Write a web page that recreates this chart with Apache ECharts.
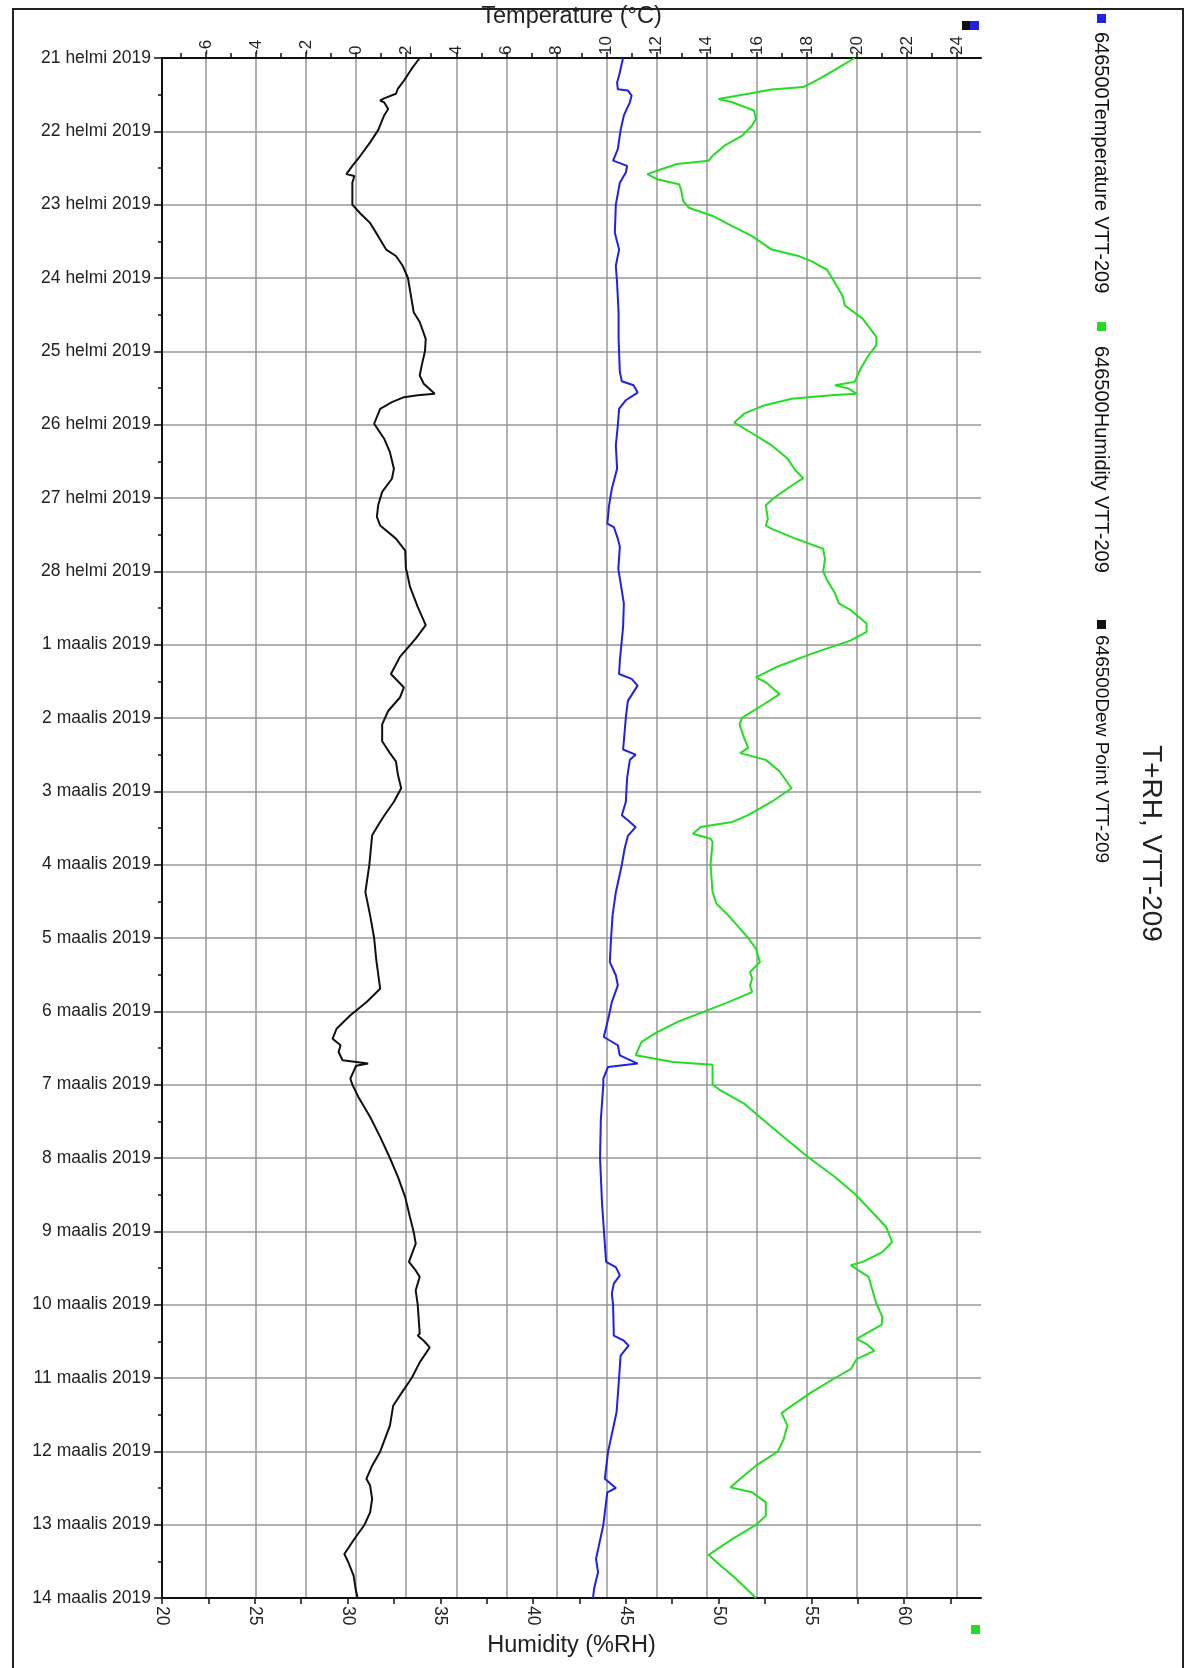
<!DOCTYPE html>
<html>
<head>
<meta charset="utf-8">
<title>T+RH, VTT-209</title>
<script src="https://cdn.jsdelivr.net/npm/echarts@6/dist/echarts.min.js"></script>
<style>
  html, body { margin: 0; padding: 0; background: #ffffff; }
  #chart { width: 1185px; height: 1668px; }
</style>
</head>
<body>
<div id="chart"></div>
<script>
// Logger VTT-209, 21.2.2019 – 14.3.2019. Each row: [hours since 21.2.2019 00:00, value]
const START_DATE = [2019, 1, 21];
const MONTHS_FI = ['tammi', 'helmi', 'maalis', 'huhti', 'touko', 'kesä', 'heinä', 'elo', 'syys', 'loka', 'marras', 'joulu'];

const TEMP_MAJOR = [-6, -4, -2, 0, 2, 4, 6, 8, 10, 12, 14, 16, 18, 20, 22, 24];
const TEMP_MINOR = [-7, -5, -3, -1, 1, 3, 5, 7, 9, 11, 13, 15, 17, 19, 21, 23];
const RH_LABELS = [20, 25, 30, 35, 40, 45, 50, 55, 60];
const RH_TICKS = [20, 22.5, 25, 27.5, 30, 32.5, 35, 37.5, 40, 42.5, 45, 47.5, 50, 52.5, 55, 57.5, 60, 62.5];

// Dew point (°C)
const dewPoint = [
  [0, 2.54], [3.5, 2.22], [8, 1.86], [10, 1.67], [11.7, 1.59], [13.2, 1.12], [13.9, 0.96], [14.5, 1.12],
  [16.7, 1.28], [18.8, 1.12], [23.6, 0.88], [27.6, 0.56], [32, 0.17], [35.3, -0.15], [38, -0.39], [38.6, -0.07],
  [40.8, -0.15], [44, -0.15], [48, -0.15], [50.9, 0.17], [54, 0.56], [58.3, 0.88], [62.7, 1.2], [64.8, 1.59],
  [68, 1.86], [72, 2.07], [83.2, 2.3], [86.4, 2.54], [91.9, 2.78], [96, 2.75], [100.6, 2.62], [103.9, 2.54],
  [106.6, 2.7], [109.9, 3.14], [110.4, 2.46], [111, 1.91], [112.6, 1.43], [114.8, 0.96], [119.7, 0.72],
  [124.6, 1.12], [129, 1.35], [134.4, 1.51], [137.7, 1.43], [142, 1.04], [146.4, 0.88], [150.2, 0.83],
  [153, 0.96], [157.3, 1.59], [161.2, 1.96], [167.2, 1.99], [168, 2.02], [173, 2.15], [179.6, 2.46],
  [185.6, 2.78], [190, 2.38], [196, 1.75], [201.6, 1.39], [206, 1.91], [209.3, 1.75], [213.7, 1.28],
  [218.1, 1.04], [223.6, 1.04], [227.5, 1.35], [230.2, 1.59], [234.6, 1.67], [239, 1.8], [243.4, 1.51],
  [248, 1.12], [251.1, 0.88], [254.4, 0.64], [264, 0.53], [273, 0.37], [280.6, 0.56], [288, 0.72],
  [294.8, 0.8], [304.6, 0.96], [309, 0.41], [313.3, -0.23], [317.7, -0.78], [321, -0.94], [323.1, -0.62],
  [325.3, -0.7], [328, -0.54], [329.1, 0.48], [329.8, 0.0], [334, -0.23], [336, -0.15], [340, 0.09],
  [346.6, 0.56], [353.1, 0.96], [360, 1.35], [366.2, 1.67], [372.8, 1.96], [379.3, 2.15], [384.2, 2.3],
  [388, 2.38], [394, 2.11], [396.8, 2.38], [398.9, 2.54], [403.3, 2.38], [408, 2.46], [417.5, 2.54],
  [418.1, 2.46], [419.8, 2.7], [422, 2.94], [426.9, 2.54], [432, 2.22], [436.7, 1.83], [441.1, 1.48],
  [447.6, 1.35], [456.1, 0.96], [460.7, 0.64], [465, 0.41], [467.2, 0.56], [471.6, 0.64], [476, 0.56],
  [480.1, 0.33], [484.7, -0.07], [489.6, -0.47], [492.3, -0.31], [496.7, -0.1], [501, -0.02], [504, 0.06]
];

// Air temperature (°C)
const temperature = [
  [0, 10.66], [5.7, 10.5], [8, 10.42], [10.2, 10.45], [10.6, 10.85], [12.3, 11.0], [14.5, 10.93],
  [18.8, 10.69], [23.6, 10.56], [29.8, 10.45], [33.6, 10.26], [35.3, 10.82], [37.5, 10.77], [40.8, 10.53],
  [48, 10.37], [57.2, 10.33], [62.7, 10.5], [68, 10.37], [73.6, 10.42], [83.5, 10.48], [91.9, 10.48],
  [102.8, 10.53], [105.8, 10.61], [107.1, 11.08], [109.5, 11.24], [112, 10.77], [114.8, 10.5], [120.2, 10.45],
  [126.8, 10.37], [134.4, 10.42], [141, 10.21], [146.4, 10.1], [152.4, 10.03], [153.5, 10.29], [157.3, 10.45],
  [160, 10.53], [167.2, 10.47], [178.5, 10.69], [186.2, 10.66], [197.2, 10.53], [201.6, 10.5], [203.2, 11.0],
  [205.4, 11.24], [210.4, 10.85], [215.9, 10.77], [223.6, 10.69], [226.3, 10.66], [228, 11.16], [229.7, 10.93],
  [235.7, 10.82], [243.4, 10.77], [247.8, 10.61], [249.5, 10.85], [251.7, 11.16], [254.6, 10.85], [258.8, 10.72],
  [264, 10.61], [273, 10.37], [280.6, 10.24], [288, 10.18], [295.9, 10.13], [300.2, 10.37], [303.5, 10.45],
  [309, 10.21], [313.3, 10.1], [320.4, 9.89], [323.1, 10.45], [326.4, 10.53], [329.1, 11.24], [330.2, 10.06],
  [334, 9.87], [336, 9.87], [347.7, 9.77], [360, 9.74], [375, 9.82], [388, 9.93], [394, 9.98], [395.7, 10.37],
  [398.4, 10.53], [401.1, 10.29], [404.4, 10.21], [408, 10.26], [418.1, 10.29], [419.8, 10.69], [421.4, 10.88],
  [424.7, 10.56], [432, 10.5], [443.2, 10.4], [456.1, 10.06], [465, 9.93], [468, 10.37], [469.4, 10.03],
  [480.1, 9.87], [491.2, 9.58], [495.6, 9.66], [501, 9.5], [504, 9.46]
];

// Relative humidity (%RH)
const humidity = [
  [0, 57.34], [3.5, 56.38], [6.8, 55.43], [9.5, 54.57], [10.3, 52.87], [11.7, 51.6], [13.4, 50.0], [14.5, 50.74],
  [17.2, 51.91], [19.9, 52.02], [22.1, 51.81], [25.4, 51.28], [28.7, 50.32], [32, 49.68], [33.6, 49.47],
  [34.7, 47.77], [36.4, 46.91], [38, 46.17], [39.7, 46.7], [41.3, 47.87], [43, 47.98], [46.8, 48.09], [49, 48.4],
  [51.7, 49.68], [55, 50.74], [58.3, 51.81], [62.7, 52.87], [64.9, 54.36], [66.5, 55.0], [69.3, 55.85],
  [72.5, 56.17], [74.7, 56.38], [78, 56.7], [81, 56.81], [85.3, 57.77], [91.3, 58.51], [94, 58.51],
  [97.3, 58.09], [101.7, 57.66], [106, 57.34], [107.1, 56.28], [108.2, 57.02], [109.9, 57.45], [110.4, 56.06],
  [111.5, 53.94], [113.7, 52.45], [116.4, 51.38], [119.3, 50.85], [122.4, 51.7], [126.8, 52.87], [131.1, 53.72],
  [135, 54.15], [137.5, 54.57], [140.4, 53.83], [144, 52.98], [146.4, 52.55], [150.8, 52.66], [153, 52.55],
  [154.1, 52.87], [157.3, 54.15], [160.6, 55.64], [164, 55.74], [168, 55.64], [170.8, 55.85], [175.2, 56.28],
  [178.5, 56.49], [180.7, 57.13], [185.1, 57.98], [187.8, 57.98], [190.6, 57.13], [195, 55.0], [199.4, 53.09],
  [202.7, 52.02], [204.3, 52.55], [208.2, 53.3], [211.5, 52.45], [215.9, 51.28], [218.1, 51.13], [222.5, 51.38],
  [225.8, 51.6], [227.5, 51.17], [229.7, 52.55], [233.5, 53.3], [239, 53.94], [243.4, 52.87], [247.8, 51.6],
  [250, 50.74], [251.7, 49.04], [253.9, 48.62], [255.5, 49.57], [256.6, 49.68], [264, 49.57], [273, 49.68],
  [276.8, 49.89], [280.6, 50.53], [285, 51.17], [288, 51.6], [291.5, 52.02], [295.9, 52.23], [299.1, 51.7],
  [301.3, 51.81], [303.5, 51.7], [305.7, 51.81], [309, 50.53], [312, 49.26], [315.5, 47.77], [318.8, 46.7],
  [322, 45.85], [326.4, 45.53], [328.6, 47.55], [329.5, 49.68], [334, 49.68], [336, 49.68], [337.9, 50.11],
  [342.2, 51.38], [346.6, 52.23], [353.1, 53.51], [360, 54.89], [366.2, 56.28], [371.7, 57.34], [377.1, 58.19],
  [382.6, 59.04], [387.5, 59.36], [390.8, 58.83], [394, 57.77], [395.1, 57.13], [396.8, 57.55], [398.9, 58.09],
  [403.3, 58.3], [407.7, 58.51], [412, 58.83], [414.5, 58.8], [419.2, 57.45], [420.9, 57.98], [423.1, 58.4],
  [425.8, 57.45], [429.1, 57.13], [432, 56.28], [436.7, 55.0], [441.1, 53.94], [443.5, 53.4], [447.6, 53.72],
  [452, 53.51], [456.1, 53.19], [460.7, 52.02], [465, 51.17], [467.8, 50.64], [469.4, 51.81], [472.7, 52.55],
  [477.1, 52.55], [480.1, 52.02], [484.7, 50.74], [489.9, 49.47], [493.4, 50.11], [497.8, 50.96], [504, 52.02]
];

const SERIES_NAMES = ['646500Temperature VTT-209', '646500Humidity VTT-209', '646500Dew Point VTT-209'];
const COLORS = { temperature: '#2020e6', humidity: '#22dd22', dewPoint: '#111111' };

const FONT = '"Liberation Sans", Arial, sans-serif';
const GRID_COLOR = '#979797';
const TOTAL_HOURS = 21 * 24;

// "21 helmi 2019" style date labels from hour offsets
function dateLabel(hours) {
  const d = new Date(START_DATE[0], START_DATE[1], START_DATE[2] + Math.round(hours / 24));
  return d.getDate() + ' ' + MONTHS_FI[d.getMonth()] + ' ' + d.getFullYear();
}
// x = measured value, y = time
function toPoints(rows) { return rows.map(r => [r[1], r[0]]); }

const chart = echarts.init(document.getElementById('chart'), null, { renderer: 'canvas' });

const option = {
  animation: false,
  backgroundColor: '#ffffff',
  grid: { left: 162, top: 58, width: 819, height: 1540, outerBoundsMode: 'none', containLabel: false },
  xAxis: [
    {
      // temperature scale, top
      type: 'value', position: 'top', min: -7.75, max: 24.95,
      name: 'Temperature (°C)', nameLocation: 'middle', nameGap: 23,
      nameTextStyle: { fontFamily: FONT, fontSize: 23.5, color: '#222' },
      axisLine: { show: true, onZero: false, lineStyle: { color: '#111', width: 2 } },
      axisTick: { show: true, customValues: TEMP_MAJOR, length: 6, lineStyle: { color: '#111', width: 1.5 } },
      axisLabel: { show: true, customValues: TEMP_MAJOR, rotate: -90, margin: 3, fontFamily: FONT, fontSize: 17, color: '#222' },
      splitLine: { show: true, lineStyle: { color: GRID_COLOR, width: 1.5 } }
    },
    {
      // odd-degree minor ticks on the temperature scale
      type: 'value', position: 'top', min: -7.75, max: 24.95,
      axisLine: { show: false, onZero: false },
      axisTick: { show: true, customValues: TEMP_MINOR, length: 5, lineStyle: { color: '#111', width: 1.5 } },
      axisLabel: { show: false },
      splitLine: { show: false }
    },
    {
      // humidity scale, bottom
      type: 'value', position: 'bottom', min: 20, max: 64.15,
      name: 'Humidity (%RH)', nameLocation: 'middle', nameGap: 30,
      nameTextStyle: { fontFamily: FONT, fontSize: 23.5, color: '#222' },
      axisLine: { show: true, onZero: false, lineStyle: { color: '#111', width: 2 } },
      axisTick: { show: true, customValues: RH_TICKS, length: 6, lineStyle: { color: '#111', width: 1.5 } },
      axisLabel: { show: true, customValues: RH_LABELS, rotate: -90, margin: 8, fontFamily: FONT, fontSize: 17.5, color: '#222' },
      splitLine: { show: false }
    }
  ],
  yAxis: [
    {
      type: 'value', inverse: true, min: 0, max: TOTAL_HOURS, interval: 24,
      axisLine: { show: true, onZero: false, lineStyle: { color: '#111', width: 2 } },
      axisTick: { show: true, length: 8, lineStyle: { color: '#111', width: 1.5 } },
      minorTick: { show: true, splitNumber: 2, length: 4, lineStyle: { color: '#111', width: 1.5 } },
      axisLabel: { show: true, margin: 11, fontFamily: FONT, fontSize: 17.5, color: '#222', formatter: v => dateLabel(v) },
      splitLine: { show: true, lineStyle: { color: GRID_COLOR, width: 1.5 } },
      minorSplitLine: { show: false }
    }
  ],
  series: [
    {
      name: SERIES_NAMES[1], type: 'line', xAxisIndex: 2, yAxisIndex: 0,
      data: toPoints(humidity), showSymbol: false, symbol: 'none',
      lineStyle: { color: COLORS.humidity, width: 2 }, itemStyle: { color: COLORS.humidity }, z: 3
    },
    {
      name: SERIES_NAMES[0], type: 'line', xAxisIndex: 0, yAxisIndex: 0,
      data: toPoints(temperature), showSymbol: false, symbol: 'none',
      lineStyle: { color: COLORS.temperature, width: 2 }, itemStyle: { color: COLORS.temperature }, z: 4
    },
    {
      name: SERIES_NAMES[2], type: 'line', xAxisIndex: 0, yAxisIndex: 0,
      data: toPoints(dewPoint), showSymbol: false, symbol: 'none',
      lineStyle: { color: COLORS.dewPoint, width: 2 }, itemStyle: { color: COLORS.dewPoint }, z: 5
    }
  ],
  graphic: [
    // page frame
    { type: 'polyline', z: 100, silent: true,
      shape: { points: [[13, 1700], [13, 9], [1183, 9], [1183, 1700]] },
      style: { stroke: '#222', lineWidth: 2, fill: 'none' } },
    // axis swatches at the plot corners
    { type: 'rect', shape: { x: 962, y: 21, width: 9, height: 9 }, style: { fill: COLORS.dewPoint } },
    { type: 'rect', shape: { x: 970, y: 21, width: 9, height: 9 }, style: { fill: COLORS.temperature } },
    { type: 'rect', shape: { x: 971, y: 1625, width: 9, height: 9 }, style: { fill: COLORS.humidity } },
    // vertical legend
    { type: 'rect', shape: { x: 1097, y: 14, width: 9, height: 9 }, style: { fill: COLORS.temperature } },
    { type: 'text', x: 1101, y: 32, rotation: -Math.PI / 2,
      style: { text: SERIES_NAMES[0], fontFamily: FONT, fontSize: 20, fill: '#111', align: 'left', verticalAlign: 'middle' } },
    { type: 'rect', shape: { x: 1097, y: 322, width: 9, height: 9 }, style: { fill: COLORS.humidity } },
    { type: 'text', x: 1101, y: 346, rotation: -Math.PI / 2,
      style: { text: SERIES_NAMES[1], fontFamily: FONT, fontSize: 20, fill: '#111', align: 'left', verticalAlign: 'middle' } },
    { type: 'rect', shape: { x: 1097, y: 620, width: 9, height: 9 }, style: { fill: COLORS.dewPoint } },
    { type: 'text', x: 1101, y: 635, rotation: -Math.PI / 2,
      style: { text: SERIES_NAMES[2], fontFamily: FONT, fontSize: 19, fill: '#111', align: 'left', verticalAlign: 'middle' } },
    // chart title
    { type: 'text', x: 1151, y: 745, rotation: -Math.PI / 2,
      style: { text: 'T+RH, VTT-209', fontFamily: FONT, fontSize: 28, fill: '#222', align: 'left', verticalAlign: 'middle' } }
  ]
};

chart.setOption(option);
</script>
</body>
</html>
